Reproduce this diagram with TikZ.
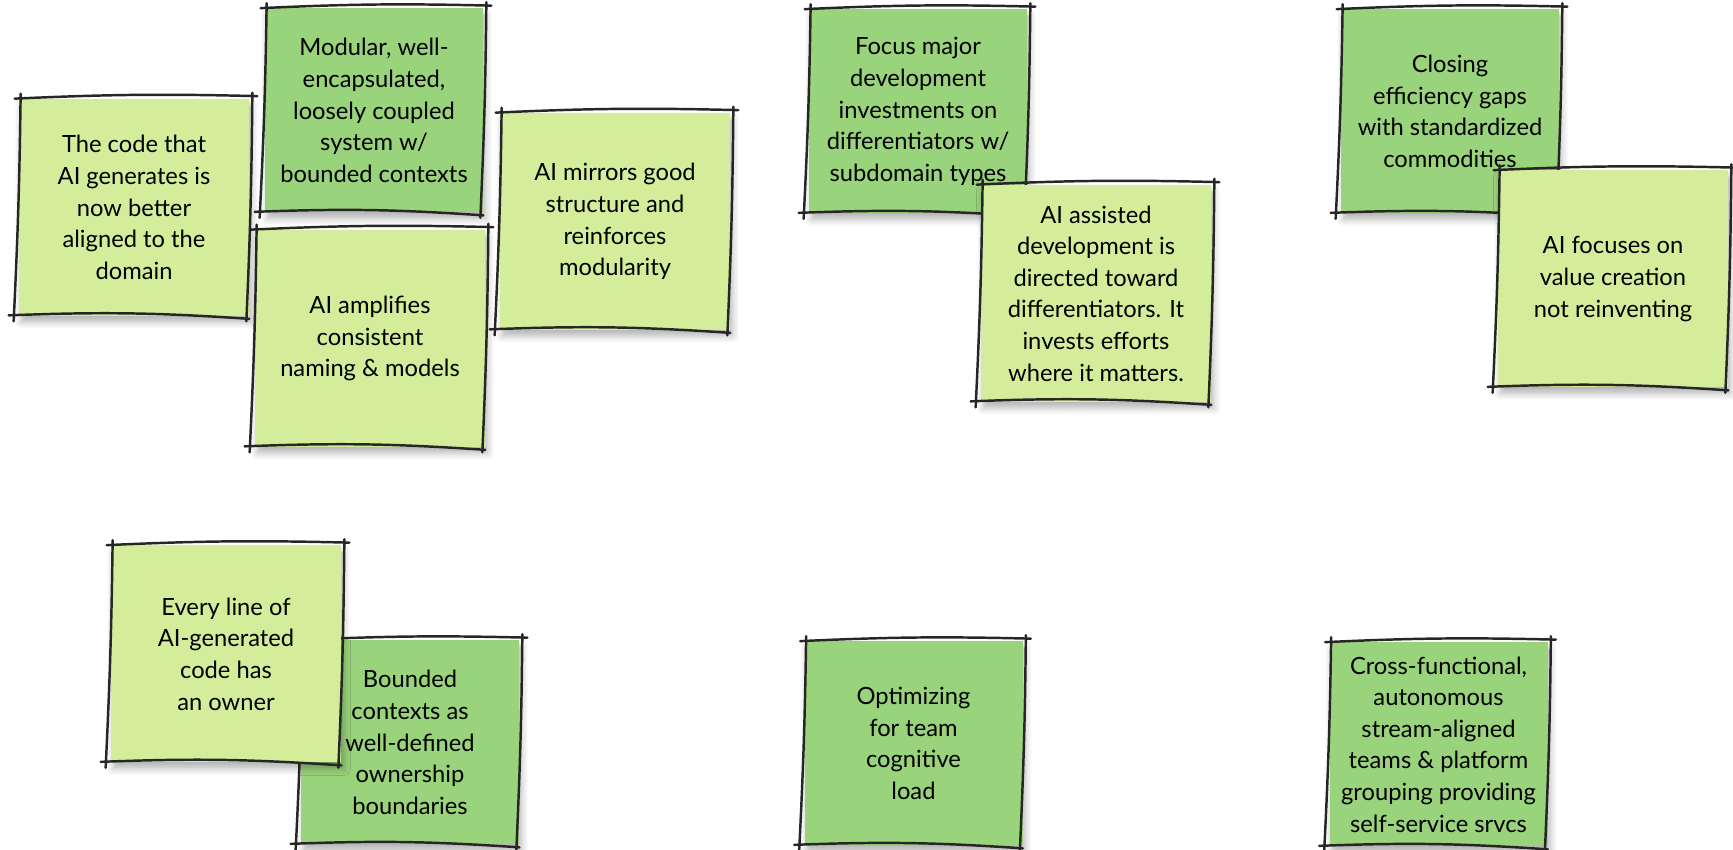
\documentclass[tikz,border=0pt]{standalone}
\usepackage{fontspec}
\setmainfont{Lato}
\usetikzlibrary{shadows.blur}
\definecolor{notelight}{RGB}{212,237,155}
\definecolor{notedark}{RGB}{153,211,123}
\newcommand{\sketchbox}[1]{%
  \draw[sketchline] ([shift={(-0.08,0.00)}]#1.north west) to[bend left=2] ([shift={(0.16,0.05)}]#1.north east);
  \draw[sketchline] ([shift={(0.06,0.12)}]#1.north east) to[bend left=1] ([shift={(-0.06,-0.10)}]#1.south east);
  \draw[sketchline] ([shift={(0.00,-0.05)}]#1.south east) to[bend right=3] ([shift={(-0.20,0.02)}]#1.south west);
  \draw[sketchline] ([shift={(-0.10,-0.10)}]#1.south west) to[bend right=1] ([shift={(0.04,0.10)}]#1.north west);
}
\begin{document}
\begin{tikzpicture}[
  note/.style={align=center, inner sep=0pt, font=\fontsize{13.5}{18}\selectfont,
    blur shadow={shadow xshift=0.05cm, shadow yshift=-0.12cm, shadow opacity=30,
      shadow blur radius=0.14cm, shadow blur steps=6}},
  lightnote/.style={note, fill=notelight, minimum width=4.6cm, minimum height=4.34cm},
  darknote/.style={note, fill=notedark, minimum width=4.36cm, minimum height=4.08cm},
  sketchline/.style={line width=1.4pt, black!85, line cap=round}]
\useasboundingbox (0,0) rectangle (34.66,17);

\node[lightnote] (code) at (2.68,12.85) {The code that\\AI generates is\\now better\\aligned to the\\domain};
\sketchbox{code}
\node[darknote] (modular) at (7.48,14.79) {Modular, well-\\encapsulated,\\loosely coupled\\system w/\\bounded contexts};
\sketchbox{modular}
\node[lightnote] (amplify) at (7.40,10.23) {AI amplifies\\consistent\\naming \& models};
\sketchbox{amplify}
\node[lightnote] (mirror) at (12.30,12.57) {AI mirrors good\\structure and\\reinforces\\modularity};
\sketchbox{mirror}

\node[darknote] (focus) at (18.36,14.77) {Focus major\\development\\investments on\\differentiators w/\\subdomain types};
\sketchbox{focus}
\node[lightnote] (assist) at (21.92,11.13) {AI assisted\\development is\\directed toward\\differentiators. It\\invests efforts\\where it matters.};
\sketchbox{assist}

\node[darknote] (closing) at (29.00,14.77) {Closing\\efficiency gaps\\with standardized\\commodities};
\sketchbox{closing}
\node[lightnote] (value) at (32.26,11.42) {AI focuses on\\value creation\\not reinventing};
\sketchbox{value}

\node[darknote] (bounded) at (8.20,2.15) {Bounded\\contexts as\\well-defined\\ownership\\boundaries};
\sketchbox{bounded}
\node[lightnote] (owner) at (4.52,3.92) {Every line of\\AI-generated\\code has\\an owner};
\sketchbox{owner}

\node[darknote] (cogload) at (18.27,2.13) {Optimizing\\for team\\cognitive\\load};
\sketchbox{cogload}
\node[darknote] (crossfn) at (28.77,2.11) {Cross-functional,\\autonomous\\stream-aligned\\teams \& platform\\grouping providing\\self-service srvcs};
\sketchbox{crossfn}
\end{tikzpicture}
\end{document}
